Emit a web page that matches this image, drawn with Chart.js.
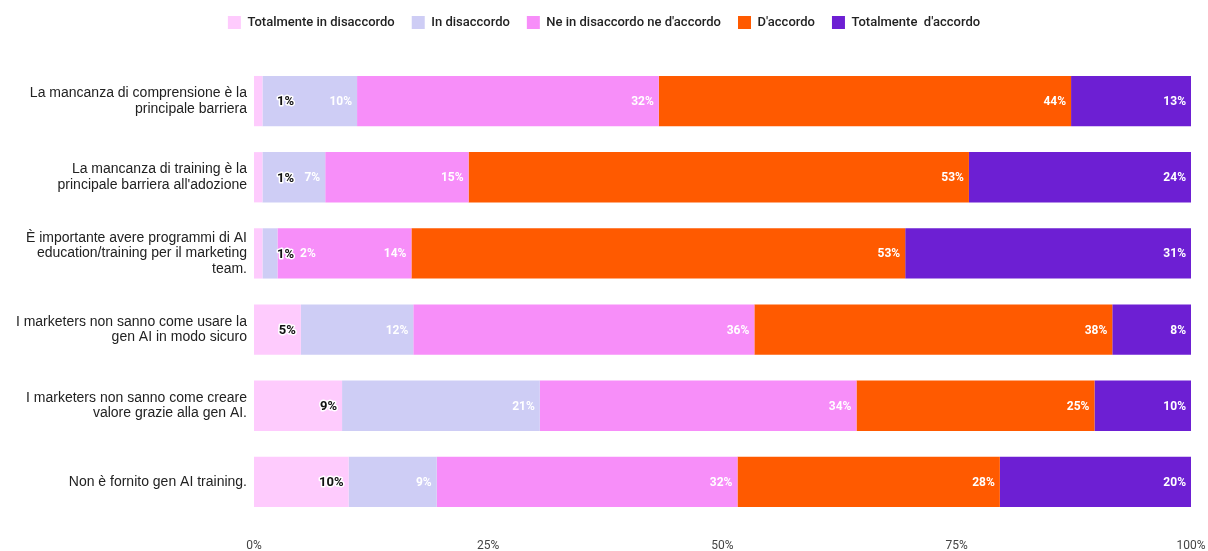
<!DOCTYPE html>
<html>
<head>
<meta charset="utf-8">
<script src="https://cdn.jsdelivr.net/npm/chart.js@4"></script>
<style>
  html, body { margin: 0; padding: 0; background: #fff; }
  #wrap { width: 1208px; height: 551px; }
</style>
</head>
<body>
<div id="wrap"><canvas id="myChart" width="1208" height="551"></canvas></div>
<script>
// categories (y axis), already wrapped like the reference
const categories = [
    ["La mancanza di comprensione è la", "principale barriera"],
    ["La mancanza di training è la", "principale barriera all'adozione"],
    ["È importante avere programmi di AI", "education/training per il marketing", "team."],
    ["I marketers non sanno come usare la", "gen AI in modo sicuro"],
    ["I marketers non sanno come creare", "valore grazie alla gen AI."],
    ["Non è fornito gen AI training."]
];

// series names and colours
const seriesNames = ["Totalmente in disaccordo", "In disaccordo", "Ne in disaccordo ne d'accordo", "D'accordo", "Totalmente  d'accordo"];
const seriesColors = ["#fecbfd", "#cecdf5", "#f78ef9", "#ff5a00", "#6d1fd3"];

// share of answers per row, in percent
const totDisaccordo = [0.9, 0.9, 0.9, 5.0, 9.4, 10.1];
const disaccordo    = [10.1, 6.7, 1.6, 12.0, 21.1, 9.4];
const neutro        = [32.2, 15.3, 14.3, 36.4, 33.8, 32.1];
const accordo       = [44.0, 53.4, 52.7, 38.2, 25.4, 28.0];
const totAccordo    = [12.8, 23.7, 30.5, 8.4, 10.3, 20.4];

// x axis ticks
const xTicks = [0, 25, 50, 75, 100];

const seriesValues = [totDisaccordo, disaccordo, neutro, accordo, totAccordo];

// draws the % labels at the end of each segment, pushed right if they would overlap
const pctLabels = {
    id: 'pctLabels',
    afterDatasetsDraw(chart) {
        const ctx = chart.ctx;
        const left = chart.chartArea.left;
        ctx.save();
        ctx.textBaseline = 'middle';
        ctx.textAlign = 'right';
        categories.forEach((c, i) => {
            let prevRight = left;
            chart.data.datasets.forEach((ds, d) => {
                const bar = chart.getDatasetMeta(d).data[i];
                const txt = Math.round(ds.data[i]) + '%';
                ctx.font = d === 0 ? 'bold 13px Roboto' : 'bold 12px Roboto';
                const w = ctx.measureText(txt).width;
                let right = bar.x - 5;
                if (d === 0) right = Math.max(right, left + 40);
                else right = Math.max(right, prevRight + 6 + w);
                if (d === 0) {
                    ctx.strokeStyle = '#fff';
                    ctx.lineWidth = 3;
                    ctx.lineJoin = 'round';
                    ctx.strokeText(txt, right, bar.y + 1);
                    ctx.fillStyle = '#111';
                } else {
                    ctx.fillStyle = '#fff';
                }
                ctx.fillText(txt, right, bar.y + 1);
                prevRight = right;
            });
        });
        ctx.restore();
    }
};

// extra room under the legend
const legendGap = {
    id: 'legendGap',
    beforeInit(chart) {
        const fit = chart.legend.fit;
        chart.legend.fit = function () {
            fit.bind(chart.legend)();
            this.height += 24;
        };
    }
};

let ctx = document.getElementById('myChart').getContext('2d');
let myChart = new Chart(ctx, {
    type: 'bar',
    data: {
        labels: categories,
        datasets: seriesNames.map((name, k) => ({
            label: name,
            data: seriesValues[k],
            backgroundColor: seriesColors[k],
            borderWidth: 0,
            barPercentage: 0.66,
            categoryPercentage: 1
        }))
    },
    options: {
        indexAxis: 'y',
        responsive: false,
        animation: false,
        layout: { padding: { top: -1, right: 0, bottom: 0, left: 0 } },
        plugins: {
            legend: {
                position: 'top',
                labels: {
                    boxWidth: 13,
                    boxHeight: 13,
                    padding: 17,
                    color: '#222',
                    font: { family: 'Roboto', size: 13, weight: '500' }
                }
            },
            tooltip: { enabled: false }
        },
        scales: {
            x: {
                stacked: true,
                min: 0,
                max: 100,
                afterBuildTicks: (scale) => { scale.ticks = xTicks.map(v => ({ value: v })); },
                afterFit: (scale) => { scale.paddingLeft = 0; scale.paddingRight = 17; scale.height = 31; },
                grid: { display: false, drawTicks: false },
                border: { display: false },
                ticks: {
                    padding: 19,
                    color: '#444',
                    font: { family: 'Roboto', size: 12 },
                    callback: (v) => v + '%'
                }
            },
            y: {
                stacked: true,
                grid: { display: false, drawTicks: false },
                border: { display: false },
                afterFit: (scale) => { scale.width = 254; scale.paddingTop = 0; scale.paddingBottom = 0; },
                ticks: {
                    padding: 7,
                    color: '#222',
                    font: { family: '"Liberation Sans", Arial', size: 14, lineHeight: 1.1 }
                }
            }
        }
    },
    plugins: [pctLabels, legendGap]
});
</script>
</body>
</html>
